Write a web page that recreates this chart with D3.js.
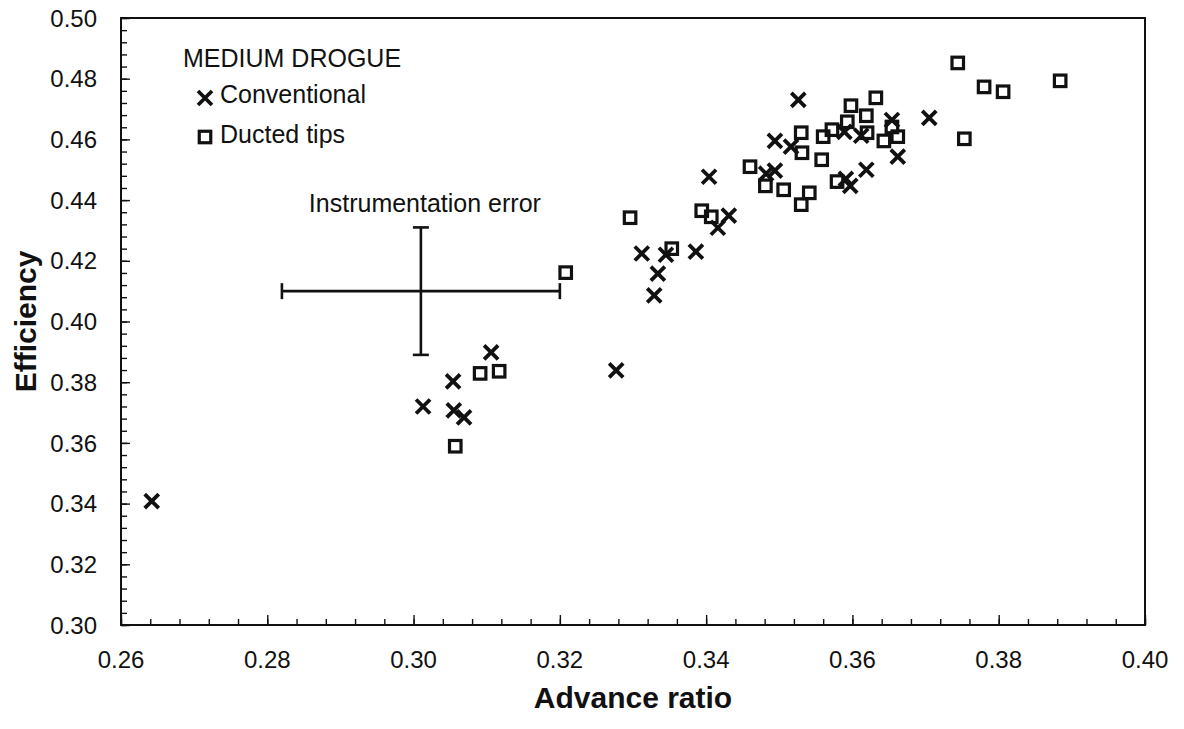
<!DOCTYPE html>
<html>
<head>
<meta charset="utf-8">
<script src="https://cdn.jsdelivr.net/npm/d3@7"></script>
<style>
  body { margin: 0; background: #fff; }
  svg text { font-family: "Liberation Sans", Arial, sans-serif; fill: #111; }
</style>
</head>
<body>
<div id="chart"></div>
<script>
// Conventional blades (x markers)
const convAdv = [0.2642, 0.3013, 0.3054, 0.3055, 0.3069, 0.3106, 0.3277, 0.3312, 0.3334, 0.3329,
  0.3345, 0.3386, 0.3404, 0.3416, 0.3431, 0.3482, 0.3494, 0.3494, 0.3516, 0.3526,
  0.3589, 0.3612, 0.3591, 0.3597, 0.3619, 0.3654, 0.3662, 0.3705];
const convEff = [0.3408, 0.3720, 0.3803, 0.3707, 0.3684, 0.3898, 0.3839, 0.4224, 0.4158, 0.4086,
  0.4220, 0.4230, 0.4477, 0.4309, 0.4349, 0.4487, 0.4497, 0.4595, 0.4576, 0.4730,
  0.4625, 0.4612, 0.4470, 0.4447, 0.4500, 0.4664, 0.4543, 0.4671];

// Ducted tips (square markers)
const ductAdv = [0.3057, 0.3091, 0.3117, 0.3208, 0.3296, 0.3353, 0.3394, 0.3407, 0.3460, 0.3481,
  0.3506, 0.3530, 0.3541, 0.3530, 0.3531, 0.3558, 0.3560, 0.3572, 0.3579, 0.3593,
  0.3598, 0.3619, 0.3620, 0.3632, 0.3643, 0.3654, 0.3662, 0.3744, 0.3753, 0.3780,
  0.3806, 0.3884];
const ductEff = [0.3589, 0.3829, 0.3836, 0.4161, 0.4342, 0.4240, 0.4365, 0.4345, 0.4510, 0.4447,
  0.4434, 0.4385, 0.4424, 0.4622, 0.4556, 0.4533, 0.4609, 0.4632, 0.4461, 0.4658,
  0.4711, 0.4678, 0.4622, 0.4737, 0.4595, 0.4641, 0.4609, 0.4852, 0.4602, 0.4773,
  0.4757, 0.4793];

// instrumentation error cross: centre and half-widths
const errCenter = [0.301, 0.410];
const errHalf = [0.019, 0.021];

const xTicks = [0.26, 0.28, 0.30, 0.32, 0.34, 0.36, 0.38, 0.40];
const yTicks = [0.30, 0.32, 0.34, 0.36, 0.38, 0.40, 0.42, 0.44, 0.46, 0.48, 0.50];

const width = 1184, height = 729;
const margin = { top: 18, right: 39, bottom: 104, left: 121 };

const svg = d3.select('#chart').append('svg')
  .attr('width', width)
  .attr('height', height);

const x = d3.scaleLinear()
  .domain([0.26, 0.40])
  .range([margin.left, width - margin.right]);

const y = d3.scaleLinear()
  .domain([0.30, 0.50])
  .range([height - margin.bottom, margin.top]);

// minor ticks every 0.004
const xMinor = d3.range(0, 36).map(i => +(0.26 + i * 0.004).toFixed(3));
const yMinor = d3.range(0, 51).map(i => +(0.30 + i * 0.004).toFixed(3));

// axis frame
svg.append('rect')
  .attr('x', x(0.26)).attr('y', y(0.50))
  .attr('width', x(0.40) - x(0.26))
  .attr('height', y(0.30) - y(0.50))
  .attr('fill', 'none')
  .attr('stroke', '#111')
  .attr('stroke-width', 2);

svg.append('g')
  .attr('transform', `translate(0,${y(0.30)})`)
  .call(d3.axisTop(x).tickValues(xMinor).tickSize(6).tickFormat(''))
  .call(g => g.select('.domain').remove())
  .call(g => g.selectAll('line').attr('stroke', '#111').attr('stroke-width', 1.4));

svg.append('g')
  .attr('transform', `translate(0,${y(0.30)})`)
  .call(d3.axisTop(x).tickValues(xTicks).tickSize(10).tickFormat(''))
  .call(g => g.select('.domain').remove())
  .call(g => g.selectAll('line').attr('stroke', '#111').attr('stroke-width', 1.4));

svg.append('g')
  .attr('transform', `translate(${x(0.26)},0)`)
  .call(d3.axisRight(y).tickValues(yMinor).tickSize(6).tickFormat(''))
  .call(g => g.select('.domain').remove())
  .call(g => g.selectAll('line').attr('stroke', '#111').attr('stroke-width', 1.4));

svg.append('g')
  .attr('transform', `translate(${x(0.26)},0)`)
  .call(d3.axisRight(y).tickValues(yTicks).tickSize(9).tickFormat(''))
  .call(g => g.select('.domain').remove())
  .call(g => g.selectAll('line').attr('stroke', '#111').attr('stroke-width', 1.4));

// tick labels
svg.append('g').selectAll('text')
  .data(xTicks)
  .join('text')
  .attr('x', d => x(d))
  .attr('y', 668)
  .attr('text-anchor', 'middle')
  .attr('font-size', 24)
  .text(d => d.toFixed(2));

svg.append('g').selectAll('text')
  .data(yTicks)
  .join('text')
  .attr('x', 97)
  .attr('y', d => y(d))
  .attr('dy', '0.36em')
  .attr('text-anchor', 'end')
  .attr('font-size', 24)
  .text(d => d.toFixed(2));

// axis titles
svg.append('text')
  .attr('x', x(0.33))
  .attr('y', 708)
  .attr('text-anchor', 'middle')
  .attr('font-size', 30)
  .attr('font-weight', 'bold')
  .text('Advance ratio');

svg.append('text')
  .attr('transform', `translate(36,${y(0.40)}) rotate(-90)`)
  .attr('text-anchor', 'middle')
  .attr('font-size', 30)
  .attr('font-weight', 'bold')
  .text('Efficiency');

// instrumentation error cross
const err = svg.append('g').attr('stroke', '#111').attr('stroke-width', 2.6);
const ex0 = x(errCenter[0] - errHalf[0]), ex1 = x(errCenter[0] + errHalf[0]);
const ey0 = y(errCenter[1] - errHalf[1]), ey1 = y(errCenter[1] + errHalf[1]);
const ecx = x(errCenter[0]), ecy = y(errCenter[1]);
err.append('line').attr('x1', ex0).attr('x2', ex1).attr('y1', ecy).attr('y2', ecy);
err.append('line').attr('x1', ecx).attr('x2', ecx).attr('y1', ey0).attr('y2', ey1);
err.append('line').attr('x1', ex0).attr('x2', ex0).attr('y1', ecy - 8).attr('y2', ecy + 8);
err.append('line').attr('x1', ex1).attr('x2', ex1).attr('y1', ecy - 8).attr('y2', ecy + 8);
err.append('line').attr('x1', ecx - 8).attr('x2', ecx + 8).attr('y1', ey0).attr('y2', ey0);
err.append('line').attr('x1', ecx - 8).attr('x2', ecx + 8).attr('y1', ey1).attr('y2', ey1);

svg.append('text')
  .attr('x', ecx + 4)
  .attr('y', 212)
  .attr('text-anchor', 'middle')
  .attr('font-size', 25)
  .text('Instrumentation error');

// markers
const cross = 7;
function drawCross(g, cx, cy) {
  g.append('path')
    .attr('d', `M${cx - cross},${cy - cross}L${cx + cross},${cy + cross}M${cx - cross},${cy + cross}L${cx + cross},${cy - cross}`)
    .attr('stroke', '#111')
    .attr('stroke-width', 3.8)
    .attr('fill', 'none');
}
const sq = 11.5;
function drawSquare(g, cx, cy) {
  g.append('rect')
    .attr('x', cx - sq / 2).attr('y', cy - sq / 2)
    .attr('width', sq).attr('height', sq)
    .attr('fill', 'none')
    .attr('stroke', '#111')
    .attr('stroke-width', 3.2);
}

const gDuct = svg.append('g');
ductAdv.forEach((d, i) => drawSquare(gDuct, x(d), y(ductEff[i])));

const gConv = svg.append('g');
convAdv.forEach((d, i) => drawCross(gConv, x(d), y(convEff[i])));

// legend
const leg = svg.append('g');
leg.append('text').attr('x', 183).attr('y', 67).attr('font-size', 25).text('MEDIUM DROGUE');
drawCross(leg, 205, 98);
leg.append('text').attr('x', 220).attr('y', 103).attr('font-size', 25).text('Conventional');
drawSquare(leg, 205, 137);
leg.append('text').attr('x', 220).attr('y', 143).attr('font-size', 25).text('Ducted tips');
</script>
</body>
</html>
